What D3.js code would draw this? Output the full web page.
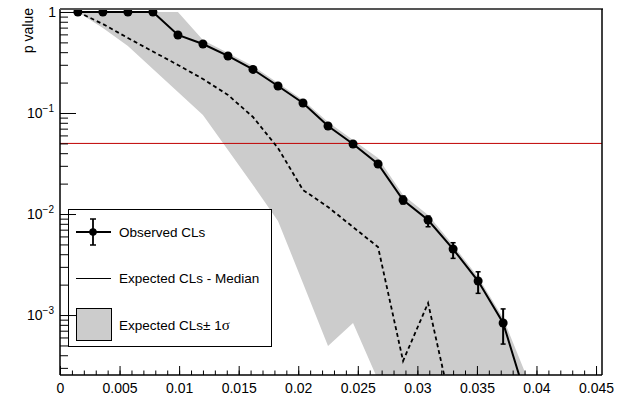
<!DOCTYPE html>
<html lang="en">
<head>
  <meta charset="UTF-8">
  <title>CLs scan</title>
  <style>
    body { margin: 0; background: #fff; }
    svg { display: block; font-family: "Liberation Sans", Arial, Helvetica, sans-serif; }
    .axis path { display: none; }
    .axis line { stroke: #000; stroke-width: 1; }
  </style>
</head>
<body>
  <div id="chart"></div>
  <script src="https://cdn.jsdelivr.net/npm/d3@7"></script>
  <script>
    // scan points
    const xVals = [0.0015, 0.0036, 0.0057, 0.0078, 0.0099, 0.0120, 0.0141, 0.0162, 0.0183, 0.0204,
                   0.0225, 0.0246, 0.0267, 0.0288, 0.0309, 0.0330, 0.0351, 0.0372, 0.0393];
    const observed = [1, 1, 1, 1, 0.592, 0.482, 0.367, 0.270, 0.185, 0.1256,
                      0.0743, 0.0493, 0.0313, 0.01376, 0.00873, 0.0045, 0.00217, 0.000834, 0.00013];
    const obsErrLo = [null, null, null, null, null, null, null, null, null, null,
                      null, null, null, 0.01256, 0.00748, 0.00364, 0.00164, 0.000516, null];
    const obsErrHi = [null, null, null, null, null, null, null, null, null, null,
                      null, null, null, 0.01507, 0.00955, 0.0052, 0.00268, 0.00115, null];
    const median = [1, 0.760, 0.553, 0.406, 0.299, 0.217, 0.151, 0.0913, 0.045, 0.0173,
                    0.01173, 0.00743, 0.00471, 0.000351, 0.001315, 0.000102, 0.00001, 0.00001, 0.00001];
    const bandLo = [1, 0.695, 0.461, 0.273, 0.1614, 0.0955, 0.0430, 0.01937, 0.00853, 0.00207,
                    0.000493, 0.000834, 0.000227, 0.00001, 0.00001, 0.00001, 0.00001, 0.00001, 0.00001];
    const bandHi = [1, 1, 1, 1, 1, 0.528, 0.393, 0.292, 0.198, 0.1345,
                    0.0815, 0.054, 0.0358, 0.01542, 0.00977, 0.00493, 0.00238, 0.000933, 0.000227];
    const threshold = 0.05;

    const xTickValues = [0, 0.005, 0.01, 0.015, 0.02, 0.025, 0.03, 0.035, 0.04, 0.045];
    const xTickLabels = ["0", "0.005", "0.01", "0.015", "0.02", "0.025", "0.03", "0.035", "0.04", "0.045"];
    const yTickValues = [1, 0.1, 0.01, 0.001];
    const yTickBases = ["1", "10", "10", "10"];
    const yTickExps = ["", "\u22121", "\u22122", "\u22123"];
    const legendLabels = ["Observed CLs", "Expected CLs - Median", "Expected CLs\u00b1 1"];

    const W = 619, H = 405;
    const pLeft = 60, pRight = 602, pTop = 10, pBottom = 375;

    const x = d3.scaleLinear().domain([0, 0.0455]).range([pLeft, pRight]);
    const y = d3.scaleLog().domain([2.55e-4, 1.046]).range([pBottom, pTop]);

    const svg = d3.select("#chart").append("svg")
      .attr("width", W)
      .attr("height", H);

    svg.append("defs").append("clipPath").attr("id", "plotclip")
      .append("rect")
      .attr("x", pLeft).attr("y", pTop - 2)
      .attr("width", pRight - pLeft).attr("height", pBottom - pTop + 2);

    const rows = xVals.map((v, i) => ({
      x: v, obs: observed[i], lo: obsErrLo[i], hi: obsErrHi[i],
      med: median[i], bLo: bandLo[i], bHi: bandHi[i]
    }));

    const plot = svg.append("g").attr("clip-path", "url(#plotclip)");

    // +-1 sigma band
    const area = d3.area()
      .x(d => x(d.x))
      .y0(d => y(d.bLo))
      .y1(d => y(d.bHi));
    plot.append("path")
      .datum(rows)
      .attr("d", area)
      .attr("fill", "#cccccc");

    // 0.05 line
    plot.append("line")
      .attr("x1", pLeft).attr("x2", pRight)
      .attr("y1", y(threshold)).attr("y2", y(threshold))
      .attr("stroke", "#c00000")
      .attr("stroke-width", 1);

    // expected median
    plot.append("path")
      .datum(rows)
      .attr("d", d3.line().x(d => x(d.x)).y(d => y(d.med)))
      .attr("fill", "none")
      .attr("stroke", "#000")
      .attr("stroke-width", 1.8)
      .attr("stroke-dasharray", "4,3");

    // observed
    plot.append("path")
      .datum(rows)
      .attr("d", d3.line().x(d => x(d.x)).y(d => y(d.obs)))
      .attr("fill", "none")
      .attr("stroke", "#000")
      .attr("stroke-width", 2);

    const errRows = rows.filter(d => d.lo !== null);
    plot.selectAll(".err")
      .data(errRows)
      .enter().append("line")
      .attr("class", "err")
      .attr("x1", d => x(d.x)).attr("x2", d => x(d.x))
      .attr("y1", d => y(d.lo)).attr("y2", d => y(d.hi))
      .attr("stroke", "#000").attr("stroke-width", 2);
    ["lo", "hi"].forEach(k => {
      plot.selectAll(".cap-" + k)
        .data(errRows)
        .enter().append("line")
        .attr("class", "cap-" + k)
        .attr("x1", d => x(d.x) - 2.5).attr("x2", d => x(d.x) + 2.5)
        .attr("y1", d => y(d[k])).attr("y2", d => y(d[k]))
        .attr("stroke", "#000").attr("stroke-width", 1.5);
    });

    plot.selectAll(".dot")
      .data(rows)
      .enter().append("circle")
      .attr("class", "dot")
      .attr("cx", d => x(d.x))
      .attr("cy", d => y(d.obs))
      .attr("r", 4.5)
      .attr("fill", "#000");

    // legend
    const lg = svg.append("g");
    lg.append("rect")
      .attr("x", 68.5).attr("y", 209.5)
      .attr("width", 203).attr("height", 137)
      .attr("fill", "#fff").attr("stroke", "#000").attr("stroke-width", 1);
    lg.append("line").attr("x1", 76).attr("x2", 111).attr("y1", 232).attr("y2", 232)
      .attr("stroke", "#000").attr("stroke-width", 1.8);
    lg.append("line").attr("x1", 93).attr("x2", 93).attr("y1", 219).attr("y2", 245)
      .attr("stroke", "#000").attr("stroke-width", 1.8);
    [219, 245].forEach(v => lg.append("line")
      .attr("x1", 90).attr("x2", 96).attr("y1", v).attr("y2", v)
      .attr("stroke", "#000").attr("stroke-width", 1.5));
    lg.append("circle").attr("cx", 93).attr("cy", 232).attr("r", 3.8).attr("fill", "#000");
    lg.append("line").attr("x1", 76).attr("x2", 111).attr("y1", 278.5).attr("y2", 278.5)
      .attr("stroke", "#000").attr("stroke-width", 1);
    lg.append("rect").attr("x", 76.5).attr("y", 308.5).attr("width", 35).attr("height", 32)
      .attr("fill", "#cccccc").attr("stroke", "#000").attr("stroke-width", 1);
    [232, 278, 325].forEach((v, i) => {
      const t = lg.append("text")
        .attr("x", 119).attr("y", v + 5)
        .attr("font-size", "13.5px")
        .text(legendLabels[i]);
      if (i === 2) {
        t.append("tspan").attr("font-family", "'Liberation Serif', 'Times New Roman', serif")
          .attr("font-size", "15px").text("\u03c3");
      }
    });

    // x axis (ticks pointing inward)
    svg.append("g")
      .attr("class", "axis")
      .attr("transform", `translate(0,${pBottom})`)
      .call(d3.axisBottom(x).tickValues(d3.range(0, 0.0455, 0.001)).tickSize(-4.5).tickFormat(""));
    svg.append("g")
      .attr("class", "axis")
      .attr("transform", `translate(0,${pBottom})`)
      .call(d3.axisBottom(x).tickValues(xTickValues).tickSize(-9).tickPadding(8)
        .tickFormat((d, i) => xTickLabels[i]))
      .selectAll("text")
      .attr("font-size", "14px")
      .attr("fill", "#000")
      .attr("font-family", "'Liberation Sans', Arial, sans-serif");

    // y axis, log
    const yMinor = [];
    [1e-4, 1e-3, 1e-2, 1e-1].forEach(dec => {
      for (let k = 2; k <= 9; k++) {
        const v = k * dec;
        if (v >= 2.55e-4 && v <= 1) yMinor.push(v);
      }
    });
    svg.append("g")
      .attr("class", "axis")
      .attr("transform", `translate(${pLeft},0)`)
      .call(d3.axisLeft(y).tickValues(yMinor).tickSize(-8).tickFormat(""));
    svg.append("g")
      .attr("class", "axis")
      .attr("transform", `translate(${pLeft},0)`)
      .call(d3.axisLeft(y).tickValues(yTickValues).tickSize(-16).tickFormat(""));

    const yl = svg.append("g");
    yTickValues.forEach((v, i) => {
      const t = yl.append("text")
        .attr("x", i === 0 ? 56 : 54)
        .attr("y", y(v) + 5)
        .attr("text-anchor", "end")
        .attr("font-size", "14px");
      t.append("tspan").text(yTickBases[i]);
      if (yTickExps[i]) {
        t.append("tspan").attr("dy", -6).attr("font-size", "10px").text(yTickExps[i]);
      }
    });

    // frame
    svg.append("line").attr("x1", pLeft).attr("x2", pLeft).attr("y1", pTop - 1).attr("y2", pBottom)
      .attr("stroke", "#000").attr("stroke-width", 1.5);
    svg.append("line").attr("x1", pLeft).attr("x2", pRight).attr("y1", pBottom).attr("y2", pBottom)
      .attr("stroke", "#000").attr("stroke-width", 1.5);
    svg.append("line").attr("x1", pLeft).attr("x2", pRight + 1).attr("y1", pTop - 1).attr("y2", pTop - 1)
      .attr("stroke", "#555").attr("stroke-width", 2);
    svg.append("line").attr("x1", pRight).attr("x2", pRight).attr("y1", pTop - 1).attr("y2", pBottom)
      .attr("stroke", "#000").attr("stroke-width", 1.5);

    // axis titles
    svg.append("text")
      .attr("transform", "translate(33,8) rotate(-90)")
      .attr("text-anchor", "end")
      .attr("font-size", "14px")
      .text("p value");
    // x title sits mostly below the window, as in the reference
    svg.append("text")
      .attr("x", 597).attr("y", 417)
      .attr("text-anchor", "end")
      .attr("font-size", "16px")
      .text("\u03b8");
  </script>
</body>
</html>
